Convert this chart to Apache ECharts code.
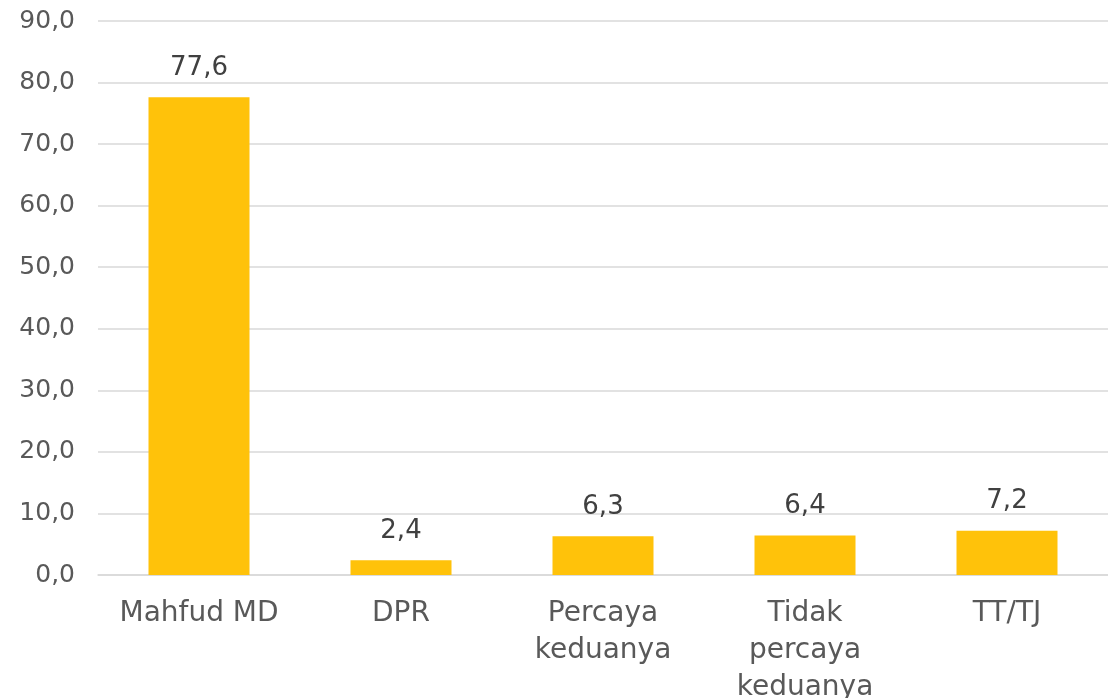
<!DOCTYPE html>
<html>
<head>
<meta charset="utf-8">
<script src="https://cdn.jsdelivr.net/npm/echarts@6/dist/echarts.min.js"></script>
<style>
  html, body { margin: 0; padding: 0; background: #fff; }
  #chart { width: 1108px; height: 698px; }
</style>
</head>
<body>
<div id="chart"></div>
<script>
// data
var categories = ['Mahfud MD', 'DPR', 'Percaya\nkeduanya', 'Tidak\npercaya\nkeduanya', 'TT/TJ']
var values = [77.6, 2.4, 6.3, 6.4, 7.2]

function comma (v) {
  return Number(v).toFixed(1).replace('.', ',')
}

var chart = echarts.init(document.getElementById('chart'))
chart.setOption({
  animation: false,
  grid: {
    top: 21,
    bottom: 123,
    left: 98,
    right: 0,
    containLabel: false,
    outerBoundsMode: 'none'
  },
  xAxis: {
    type: 'category',
    data: categories,
    axisLine: {
      lineStyle: { color: '#D9D9D9', width: 1.5 }
    },
    axisTick: { show: false },
    axisLabel: {
      color: '#595959',
      fontFamily: 'DejaVu Sans',
      fontSize: 28,
      lineHeight: 37,
      margin: 20,
      interval: 0
    }
  },
  yAxis: {
    type: 'value',
    min: 0,
    max: 90,
    interval: 10,
    axisLine: { show: false },
    axisTick: { show: false },
    axisLabel: {
      color: '#595959',
      fontFamily: 'DejaVu Sans',
      fontSize: 25,
      margin: 23,
      formatter: comma
    },
    splitLine: {
      lineStyle: { color: '#D9D9D9', width: 1.5 }
    }
  },
  series: [
    {
      type: 'bar',
      data: values,
      barWidth: '50%',
      itemStyle: { color: '#FFC20A' },
      label: {
        show: true,
        position: 'top',
        distance: 16,
        color: '#404040',
        fontFamily: 'DejaVu Sans',
        fontSize: 26,
        formatter: function (p) { return comma(p.value) }
      }
    }
  ]
})
</script>
</body>
</html>
